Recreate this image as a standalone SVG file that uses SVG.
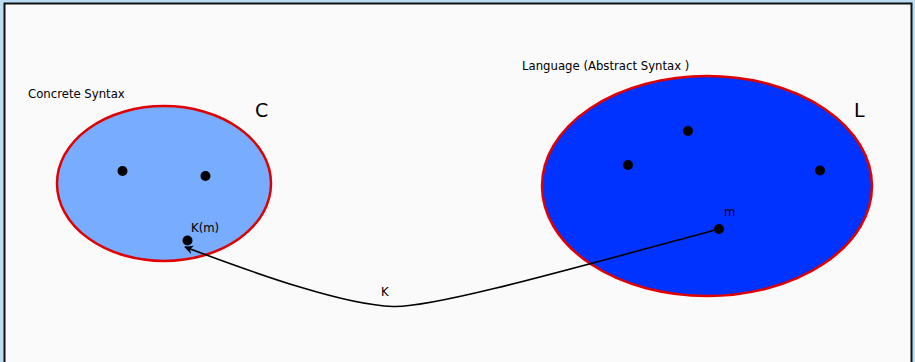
<svg xmlns="http://www.w3.org/2000/svg" width="915" height="362" viewBox="0 0 915 362">
<defs>
<style>
.t{font-family:"DejaVu Sans",sans-serif;fill:#000}
.s{font-size:11.7px}
.ell{stroke:#e00000;stroke-width:2.5}
.dot{fill:#000}
</style>
<marker id="ah" viewBox="0 0 10 10" refX="9" refY="5" markerWidth="9" markerHeight="9" markerUnits="userSpaceOnUse" orient="auto">
<path d="M0,0 L10,5 L0,10 L3,5 Z" fill="#000"/>
</marker>
</defs>
<rect x="0" y="0" width="915" height="362" fill="#bcdcf2"/>
<rect x="4.5" y="3.5" width="907" height="370" fill="#fafafa" stroke="#111" stroke-width="2"/>
<g id="nodeC">
<ellipse class="ell" cx="164" cy="183.5" rx="107" ry="77.5" fill="#77acff"/>
<text class="t s" x="28" y="98">Concrete Syntax</text>
<text class="t" x="255" y="117" font-size="19">C</text>
<circle class="dot" cx="122.5" cy="171" r="5"/>
<circle class="dot" cx="205.5" cy="176" r="5"/>
</g>
<g id="nodeKm">
<circle class="dot" cx="187.5" cy="240.5" r="5"/>
<text class="t s" x="191" y="232">K(m)</text>
</g>
<g id="nodeL">
<ellipse class="ell" cx="707" cy="186" rx="165" ry="110" fill="#0033ff"/>
<text class="t s" x="522" y="70">Language (Abstract Syntax )</text>
<text class="t" x="854" y="117" font-size="19">L</text>
<circle class="dot" cx="688" cy="131" r="5"/>
<circle class="dot" cx="628" cy="165" r="5"/>
<circle class="dot" cx="820" cy="170.5" r="5"/>
</g>
<g id="nodem">
<circle class="dot" cx="719" cy="229" r="5"/>
<text class="t s" x="724" y="216">m</text>
</g>
<g id="connectors">
<path d="M719,229 C560,272 432,308 393,306.5 C345,305 262,276 185,247" fill="none" stroke="#000" stroke-width="1.6" marker-end="url(#ah)"/>
<text class="t s" x="381" y="296">K</text>
</g>
</svg>
